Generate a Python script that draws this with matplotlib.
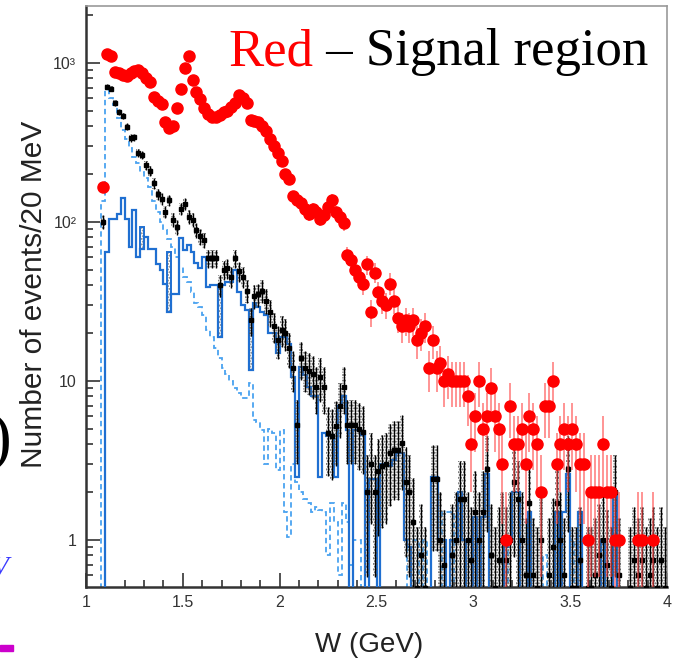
import numpy as np
import matplotlib
matplotlib.use('Agg')
import matplotlib.pyplot as plt
from matplotlib.ticker import MultipleLocator, LogLocator, FuncFormatter, NullFormatter
from matplotlib.patches import Rectangle

plt.rcParams['font.family'] = 'Liberation Sans'
plt.rcParams['hatch.linewidth'] = 0.9

# 20 MeV bins from 1 to 4 GeV
edges = np.linspace(1.0, 4.0, 151)
centers = 0.5 * (edges[1:] + edges[:-1])

# signal region (red), one entry per bin
red = np.array([
    0, 0, 0, 0, 165, 1130, 1100, 880, 860, 840,
    830, 860, 890, 900, 870, 800, 760, 610, 580, 550,
    425, 390, 400, 520, 690, 930, 1100, 780, 660, 590,
    520, 480, 460, 455, 470, 490, 500, 530, 560, 630,
    600, 560, 440, 430, 425, 400, 375, 330, 300, 270,
    240, 200, 185, 145, 138, 132, 120, 112, 120, 115,
    105, 110, 125, 138, 115, 108, 98, 62, 58, 50,
    45, 41, 54, 27, 48, 36, 32, 30, 41, 32,
    25, 22, 24, 22, 24, 18, 20, 22, 12, 18,
    12, 13, 10, 11, 10, 10, 10, 10, 8, 4,
    6, 10, 5, 6, 9, 6, 5, 3, 1, 7,
    4, 4, 5, 3, 6, 5, 4, 2, 7, 7,
    10, 3, 4, 5, 4, 5, 4, 3, 3, 1,
    2, 2, 2, 4, 2, 2, 1, 1, 0, 0,
    0, 0, 1, 1, 0, 0, 1, 0, 0, 0,
], dtype=float)

# black points
black = np.array([
    0, 0, 0, 0, 100, 710, 690, 557, 494, 464,
    398, 337, 341, 273, 265, 228, 210, 175, 150, 140,
    116, 137, 103, 93, 121, 130, 108, 103, 89, 81,
    77, 59, 59, 59, 40, 50, 51, 45, 59, 49,
    45, 37, 24, 34, 35, 37, 32, 27, 22, 18,
    21, 20, 16, 12, 5.3, 13.9, 12, 11.5, 11, 9.2,
    10.6, 9.2, 4.7, 4.5, 5.2, 7, 9.2, 5.3, 5.3, 5.3,
    5.0, 4.8, 2.0, 3.0, 2.0, 2.7, 2.9, 3.0, 3.5, 3.7,
    3.7, 4.1, 2.3, 2.0, 1.3, 0.5, 0.8, 0.5, 0, 2.4,
    2.4, 1.0, 0.7, 0, 0.8, 1.0, 1.8, 1.8, 1.0, 0.75,
    1.5, 1.0, 1.5, 2.8, 0.8, 0.5, 0.75, 1.0, 0.75, 1.0,
    2.3, 1.8, 1.0, 0.6, 1.7, 0.6, 0.5, 1.0, 0, 0.6,
    0.9, 1.7, 1.0, 0.6, 2.8, 0.5, 0.5, 0.75, 0, 0.5,
    0.5, 0.6, 0.8, 1.0, 0.7, 0.5, 2.0, 0.6, 0, 0,
    0.5, 0.75, 0.6, 0.75, 0.5, 0.6, 0.75, 0.5, 0.75, 0.5,
])

# solid blue histogram
blue = np.array([
    0, 0, 0, 0, 0, 65, 104, 104, 112, 141,
    104, 70, 119, 60, 68, 80, 68, 68, 54, 50,
    41, 27, 35, 35, 79, 67, 72, 65, 55, 51,
    60, 39, 40, 40, 19, 40, 42, 42, 50, 36,
    30, 28, 11.7, 31, 29, 27, 26, 20, 20, 15,
    19, 19, 17, 10.6, 2.5, 12.3, 10.9, 9.2, 8, 8,
    2.5, 4.7, 4.5, 4.6, 2.5, 7, 8, 4.9, 0, 4.9,
    4.9, 4.6, 0, 2.4, 2.4, 0, 3.0, 3.0, 2.9, 3.2,
    3.5, 3.5, 1.0, 0.9, 0, 0, 0, 0, 0, 2.5,
    2.5, 1.0, 1.0, 0, 1.0, 1.0, 2.0, 1.0, 0, 0,
    1.4, 0, 1.4, 2.6, 0, 0, 0, 0, 0.9, 1.0,
    2.0, 2.0, 0, 0, 1.5, 0, 0, 0, 0, 0,
    0, 1.5, 0, 1.5, 2.6, 0, 0, 1.5, 0, 0,
    0, 0, 0, 1.0, 0, 0, 2.0, 0, 0, 0,
    0, 0, 0, 0, 0, 0, 0, 0, 0, 0,
])

# shaded boxes on the blue histogram
box_w = [1.29, 1.43, 1.69, 1.85]
box_top = [93, 65, 40, 28]

# dashed blue histogram
dashed = np.array([
    0, 0, 0, 0, 135, 680, 600, 540, 450, 380,
    330, 290, 255, 235, 205, 190, 165, 135, 115, 100,
    89, 78, 70, 60, 52, 45, 42, 36, 31, 29,
    26, 21, 19, 16, 14, 12, 11, 10, 9, 8.4,
    7.8, 7.8, 9.7, 5.7, 5.5, 4.9, 3.0, 5.0, 4.7, 2.75,
    4.9, 1.5, 1.05, 3.0, 2.3, 2.0, 1.8, 1.7, 1.5, 1.6,
    1.55, 1.5, 0.8, 1.7, 1.3, 0.6, 1.7, 1.3, 0.7, 1.0,
    1.0, 0, 0.9, 0, 0, 0.8, 0, 0, 0, 0,
    0, 0, 0, 1.0, 1.0, 1.0, 0, 1.0, 0, 0,
    0, 0, 1.5, 1.5, 1.5, 0, 0, 0, 0, 0,
    0, 1.0, 0, 0, 0, 0, 0, 0, 1.0, 0,
    0, 0, 0, 0, 0, 0, 0, 0, 0.8, 0,
    0, 0, 1.0, 0, 0, 1.0, 0, 0, 0, 0,
    0, 0, 0, 0, 0, 0, 0, 0, 0, 0,
    0, 0, 0, 0, 0, 0, 0, 0, 0, 0,
])

fig = plt.figure(figsize=(6.75, 6.6), dpi=100)
ax = fig.add_axes([86/675, 73/660, 581/675, 581/660])
ax.set_yscale('log')

bw = edges[1] - edges[0]

# histograms
ax.stairs(dashed, edges, color='#4aa3f0', lw=1.3, linestyle=(0, (3, 2)), zorder=2)
ax.stairs(blue, edges, color='#1f6fd1', lw=1.6, zorder=3)
for w, t in zip(box_w, box_top):
    b = blue[np.argmin(abs(centers - w))]
    ax.bar(w, t - b, bottom=b, width=bw, facecolor='none', edgecolor='#777777',
           hatch='......', lw=0, zorder=2)
    ax.bar(w, t - b, bottom=b, width=bw, fill=False, edgecolor='#1f6fd1', lw=1.4, zorder=3)

# black points with dotted error boxes
bm = black > 0
bx, by = centers[bm], black[bm]
be = np.sqrt(by)
lo = np.maximum(by - be, 0.3)
ax.bar(bx, by + be - lo, bottom=lo, width=bw, facecolor='none', edgecolor='#555555',
       hatch='......', lw=0, zorder=4)
ax.errorbar(bx, by, xerr=bw/2, yerr=be, fmt='s', ms=2.2, color='black',
            elinewidth=1.0, capsize=0, zorder=5)

# red points
rm = red > 0
ax.errorbar(centers[rm], red[rm], yerr=np.sqrt(red[rm]), fmt='o', ms=8,
            color='#ff0000', mec='#ff0000', ecolor=(1, 0.3, 0.3, 0.7),
            elinewidth=1.2, capsize=0, zorder=6)

ax.set_xlim(1, 4)
ax.set_ylim(0.506, 2280)

ax.xaxis.set_major_locator(MultipleLocator(0.5))
ax.xaxis.set_minor_locator(MultipleLocator(0.1))
ax.xaxis.set_major_formatter(FuncFormatter(lambda v, p: '%g' % v))
ax.yaxis.set_major_locator(LogLocator(base=10))
ax.yaxis.set_minor_locator(LogLocator(base=10, subs=np.arange(2, 10)))
ax.yaxis.set_minor_formatter(NullFormatter())
ylabels = {0: '1', 1: '10', 2: '10²', 3: '10³'}
ax.yaxis.set_major_formatter(FuncFormatter(lambda v, p: ylabels.get(int(round(np.log10(v))), '')))

ax.tick_params(which='both', direction='in', top=False, right=False, colors='#333333',
               labelsize=11.5, width=1.2)
ax.tick_params(which='major', length=10)
ax.tick_params(which='minor', length=5)
ax.tick_params(axis='x', pad=6)
ax.tick_params(axis='y', pad=7)

for s in ['left', 'bottom']:
    ax.spines[s].set_color('#333333')
    ax.spines[s].set_linewidth(1.8)
for s in ['top', 'right']:
    ax.spines[s].set_color('#999999')
    ax.spines[s].set_linewidth(1.2)

fig.text(34/675, 1 - 294/660, 'Number of events/20 MeV', rotation=90,
         ha='center', va='center', fontsize=21.5, color='#222222')
fig.text(369/675, 1 - 652/660, 'W (GeV)', ha='center', va='baseline',
         fontsize=20, color='#222222')

# title-like note in the corner
t1 = fig.text(228/675, 1 - 65/660, 'Red', color='#ff0000', fontsize=38,
              family='Liberation Serif', va='baseline')
ax.annotate(' – Signal region', xy=(1, 0), xycoords=t1, va='bottom', ha='left',
            fontsize=38, family='Liberation Serif', color='black')

# pieces of neighbouring slide content at the left edge
fig.text(12/675, 1 - 458/660, ')', ha='right', va='baseline', fontsize=47,
         family='Liberation Serif', color='black')
fig.text(9/675, 1 - 575/660, 'V', ha='right', va='baseline', fontsize=20,
         family='Liberation Serif', style='italic', color='#3a3aff')
fig.patches.append(Rectangle((0, 1 - 651/660), 13/675, 6/660, transform=fig.transFigure,
                             color='#cc00cc'))

fig.savefig('out.png', dpi=100)
